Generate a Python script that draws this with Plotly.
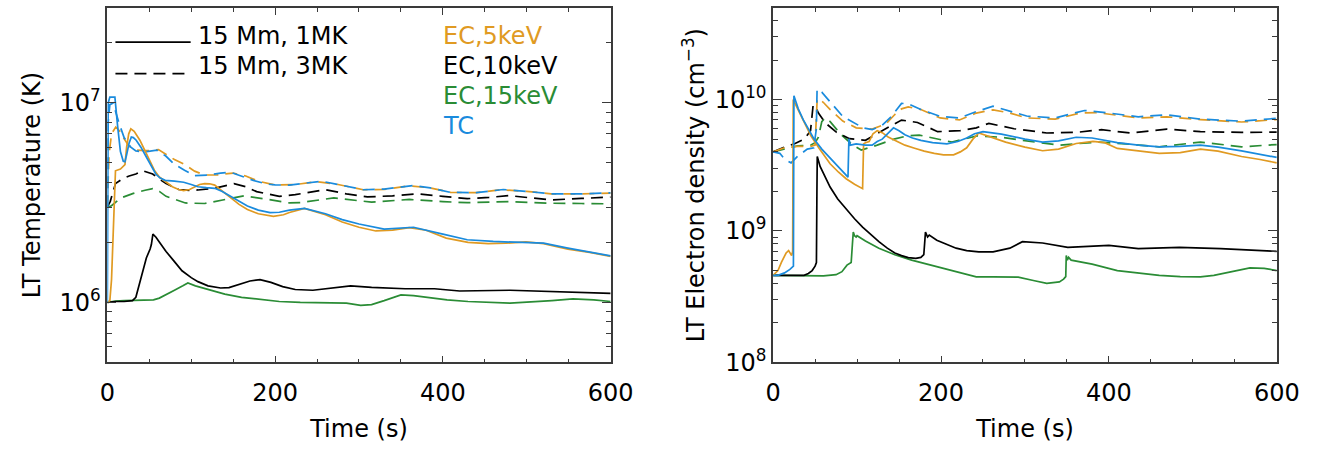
import plotly.graph_objects as go
import math

# ---------------- data: left panel, loop-top temperature (K) ----------------
t_T_ec5_1mk = [0, 3, 5, 7, 9.7, 15.6, 21, 23, 25.5, 28, 32, 38.8, 45, 50.4, 56, 62, 70, 77.5, 85, 91, 98, 104.5, 110, 116, 122, 128, 137, 147, 157, 167, 180, 198, 210, 217, 235, 260, 280, 300, 320, 340, 360, 380, 404, 430, 454, 475, 499, 520, 549, 575, 600]
T_ec5_1mk = [1.0e6, 1.02e6, 1.3e6, 2.5e6, 4.57e6, 4.66e6, 4.9e6, 6.0e6, 7.0e6, 7.41e6, 7.2e6, 6.5e6, 5.7e6, 5.1e6, 4.6e6, 4.25e6, 4.0e6, 3.8e6, 3.68e6, 3.63e6, 3.68e6, 3.8e6, 3.9e6, 3.94e6, 3.93e6, 3.87e6, 3.6e6, 3.33e6, 3.1e6, 2.92e6, 2.78e6, 2.7e6, 2.75e6, 2.82e6, 2.96e6, 2.75e6, 2.53e6, 2.38e6, 2.28e6, 2.3e6, 2.37e6, 2.3e6, 2.1e6, 2.0e6, 1.97e6, 1.98e6, 2.01e6, 1.97e6, 1.85e6, 1.78e6, 1.70e6]

t_T_ec10_1mk = [0, 10, 20, 30, 34, 38.8, 46.5, 51, 52.5, 54.3, 58, 63, 70, 80, 89, 100, 108, 120, 135, 145, 155, 170, 182, 195, 209, 224, 245, 270, 290, 315, 355, 390, 420, 480, 530, 600]
T_ec10_1mk = [1.0e6, 1.01e6, 1.01e6, 1.02e6, 1.06e6, 1.25e6, 1.67e6, 1.85e6, 1.95e6, 2.2e6, 2.12e6, 1.98e6, 1.8e6, 1.6e6, 1.44e6, 1.33e6, 1.27e6, 1.21e6, 1.18e6, 1.185e6, 1.22e6, 1.28e6, 1.30e6, 1.26e6, 1.2e6, 1.16e6, 1.15e6, 1.18e6, 1.21e6, 1.19e6, 1.17e6, 1.17e6, 1.14e6, 1.15e6, 1.13e6, 1.11e6]

t_T_ec15_1mk = [0, 10, 20, 40, 55, 62, 70, 80, 90, 96, 105, 120, 140, 160, 180, 205, 230, 260, 285, 302, 315, 330, 350, 365, 380, 405, 430, 480, 530, 555, 580, 600]
T_ec15_1mk = [1.0e6, 1.015e6, 1.02e6, 1.025e6, 1.03e6, 1.05e6, 1.09e6, 1.15e6, 1.21e6, 1.25e6, 1.21e6, 1.16e6, 1.1e6, 1.06e6, 1.035e6, 1.01e6, 1.0e6, 0.995e6, 0.99e6, 0.965e6, 0.975e6, 1.02e6, 1.09e6, 1.08e6, 1.06e6, 1.03e6, 1.01e6, 0.99e6, 1.02e6, 1.04e6, 1.03e6, 1.01e6]

t_T_tc_1mk = [0, 1, 3, 9, 12.2, 15.6, 19, 21, 23, 26, 28.6, 31, 34.4, 40, 46, 52, 57.7, 63, 69, 80, 91, 100, 108, 118, 128, 137, 147, 157, 167, 180, 194, 205, 217, 235, 260, 280, 300, 330, 365, 400, 429, 460, 494, 520, 549, 575, 600]
T_tc_1mk = [1.0e6, 1.0e7, 1.07e7, 1.07e7, 7.7e6, 5.7e6, 5.1e6, 5.07e6, 5.5e6, 6.3e6, 6.75e6, 6.7e6, 6.5e6, 6.0e6, 5.4e6, 4.9e6, 4.4e6, 4.2e6, 4.09e6, 4.05e6, 4.0e6, 3.9e6, 3.8e6, 3.76e6, 3.73e6, 3.6e6, 3.4e6, 3.2e6, 3.04e6, 2.9e6, 2.82e6, 2.83e6, 2.9e6, 2.96e6, 2.78e6, 2.6e6, 2.47e6, 2.33e6, 2.38e6, 2.2e6, 2.06e6, 2.02e6, 2.0e6, 1.98e6, 1.87e6, 1.79e6, 1.71e6]

t_T_ec5_3mk = [0, 2, 5, 10, 15, 20, 26, 35, 45, 51, 61, 70, 80, 91, 104, 116, 130, 150, 165, 180, 200, 225, 250, 275, 305, 330, 360, 385, 409, 440, 469, 500, 529, 565, 600]
T_ec5_3mk = [3.0e6, 5.5e6, 7.0e6, 7.57e6, 7.2e6, 6.6e6, 6.06e6, 5.8e6, 5.77e6, 5.77e6, 5.83e6, 5.5e6, 5.2e6, 4.94e6, 4.55e6, 4.35e6, 4.35e6, 4.45e6, 4.3e6, 4.05e6, 3.88e6, 3.9e6, 4.03e6, 3.9e6, 3.67e6, 3.68e6, 3.84e6, 3.75e6, 3.56e6, 3.55e6, 3.67e6, 3.6e6, 3.5e6, 3.5e6, 3.53e6]

t_T_ec10_3mk = [0, 3.5, 9.7, 18, 26, 34, 42, 54, 62, 70, 85, 100, 108, 128, 151, 165, 178, 205, 224, 260, 285, 310, 340, 370, 400, 429, 455, 479, 505, 529, 565, 600]
T_ec10_3mk = [3.0e6, 3.21e6, 3.94e6, 4.16e6, 4.3e6, 4.4e6, 4.57e6, 4.4e6, 4.15e6, 3.94e6, 3.68e6, 3.64e6, 3.66e6, 3.73e6, 3.94e6, 3.8e6, 3.59e6, 3.4e6, 3.47e6, 3.67e6, 3.5e6, 3.38e6, 3.42e6, 3.5e6, 3.4e6, 3.31e6, 3.36e6, 3.43e6, 3.34e6, 3.26e6, 3.32e6, 3.37e6]

t_T_ec15_3mk = [0, 5, 15.6, 31, 45, 54, 62, 70, 93, 116, 139, 163, 190, 217, 230, 270, 315, 360, 400, 429, 479, 529, 565, 600]
T_ec15_3mk = [3.0e6, 3.05e6, 3.33e6, 3.52e6, 3.65e6, 3.72e6, 3.6e6, 3.4e6, 3.15e6, 3.13e6, 3.27e6, 3.42e6, 3.29e6, 3.15e6, 3.16e6, 3.34e6, 3.18e6, 3.28e6, 3.2e6, 3.16e6, 3.2e6, 3.14e6, 3.13e6, 3.12e6]

t_T_tc_3mk = [0, 1, 3, 7, 10, 14, 20, 28, 34, 40, 47, 59, 70, 80, 92, 104, 120, 135, 147, 160, 174, 190, 200, 217, 235, 255, 275, 305, 330, 365, 385, 409, 440, 472, 500, 529, 565, 600]
T_tc_3mk = [3.0e6, 8.0e6, 9.8e6, 1.0e7, 9.0e6, 7.9e6, 6.7e6, 6.0e6, 5.75e6, 5.7e6, 5.7e6, 5.8e6, 5.4e6, 4.92e6, 4.6e6, 4.32e6, 4.35e6, 4.45e6, 4.49e6, 4.3e6, 4.09e6, 3.92e6, 3.88e6, 3.87e6, 3.95e6, 4.05e6, 3.9e6, 3.67e6, 3.7e6, 3.85e6, 3.75e6, 3.56e6, 3.55e6, 3.68e6, 3.6e6, 3.5e6, 3.5e6, 3.54e6]

# ---------------- data: right panel, loop-top electron density (cm^-3) ----------------
t_n_ec5_1mk = [0, 5.8, 10, 15.5, 18.5, 20.5, 22.1, 23.3, 24, 30, 36, 45, 55, 67.9, 78, 87, 97, 106.6, 107.8, 110, 114.4, 119, 124, 130, 137, 145, 157, 168.6, 180, 192, 203, 215, 223, 230.6, 238, 245, 260, 277, 300, 321, 340, 361, 381, 395, 410, 435, 460, 485, 509, 530, 558, 580, 600]
n_ec5_1mk = [4.6e8, 5.0e8, 5.8e8, 6.8e8, 7.1e8, 6.7e8, 6.5e8, 7.0e8, 1.0e10, 8.3e9, 7.0e9, 5.3e9, 4.25e9, 3.25e9, 2.8e9, 2.5e9, 2.27e9, 2.1e9, 4.6e9, 4.7e9, 4.8e9, 5.5e9, 5.8e9, 5.6e9, 5.2e9, 4.9e9, 4.5e9, 4.26e9, 4.05e9, 3.9e9, 3.8e9, 3.8e9, 4.0e9, 4.3e9, 5.0e9, 5.57e9, 5.2e9, 4.75e9, 4.35e9, 4.08e9, 4.2e9, 4.63e9, 4.81e9, 4.7e9, 4.25e9, 4.05e9, 3.9e9, 3.95e9, 4.2e9, 4.05e9, 3.69e9, 3.5e9, 3.3e9]

t_n_ec10_1mk = [0, 20, 36.9, 42, 46.5, 50, 51.6, 52.2, 52.6, 56, 60, 67.9, 77, 87.2, 97, 106.6, 116, 126, 136, 145, 153, 161, 170, 176, 179.5, 180.5, 181.5, 184, 186, 195, 207, 218, 230.6, 245, 262, 282, 297, 321, 351, 375, 400, 435, 484, 533, 570, 600]
n_ec10_1mk = [4.6e8, 4.6e8, 4.6e8, 4.75e8, 5.0e8, 5.4e8, 5.75e8, 2.0e9, 3.69e9, 3.1e9, 2.75e9, 2.16e9, 1.75e9, 1.46e9, 1.24e9, 1.07e9, 9.4e8, 8.3e8, 7.4e8, 6.8e8, 6.5e8, 6.27e8, 6.2e8, 6.3e8, 6.6e8, 9.0e8, 9.8e8, 9.0e8, 9.3e8, 8.5e8, 7.85e8, 7.4e8, 7.1e8, 6.93e8, 6.93e8, 7.4e8, 8.3e8, 8.1e8, 7.5e8, 7.6e8, 7.76e8, 7.34e8, 7.5e8, 7.34e8, 7.2e8, 7.0e8]

t_n_ec15_1mk = [0, 30, 60, 75, 82, 88, 93, 94.5, 95.5, 97, 98.9, 100, 110, 126, 145, 165, 185, 203.5, 222, 242, 262, 292, 310, 326, 341, 346, 348.6, 349.2, 350.5, 352, 355, 380, 410, 435, 460, 485, 509, 525, 538, 555, 568, 585, 600]
n_ec15_1mk = [4.6e8, 4.55e8, 4.55e8, 4.65e8, 4.9e8, 5.5e8, 5.75e8, 8.0e8, 9.8e8, 9.2e8, 9.0e8, 9.2e8, 8.4e8, 7.4e8, 6.6e8, 6.0e8, 5.55e8, 5.15e8, 4.8e8, 4.47e8, 4.47e8, 4.45e8, 4.2e8, 4.0e8, 4.1e8, 4.3e8, 4.5e8, 6.5e8, 6.0e8, 6.3e8, 6.0e8, 5.6e8, 5.0e8, 4.8e8, 4.6e8, 4.5e8, 4.47e8, 4.6e8, 4.78e8, 5.0e8, 5.24e8, 5.2e8, 5.0e8]

t_n_tc_1mk = [0, 5.8, 13.6, 20, 24.2, 24.8, 30, 36, 42.6, 48.5, 58, 67.9, 78, 89.2, 90.3, 92, 99, 110, 118, 124, 130, 137, 143.4, 150, 157, 166, 176, 190, 207, 220, 230.6, 240, 250, 272, 300, 321, 340, 361, 380, 410, 435, 460, 485, 509, 530, 558, 580, 600]
n_tc_1mk = [4.6e8, 4.6e8, 4.8e8, 5.1e8, 5.4e8, 1.07e10, 8.5e9, 7.0e9, 5.9e9, 5.04e9, 4.2e9, 3.6e9, 3.05e9, 2.57e9, 5.04e9, 4.5e9, 4.6e9, 4.5e9, 4.5e9, 4.8e9, 5.0e9, 5.6e9, 6.1e9, 5.8e9, 5.4e9, 5.1e9, 4.9e9, 4.7e9, 4.6e9, 4.8e9, 5.1e9, 5.5e9, 5.7e9, 5.46e9, 5.0e9, 4.75e9, 4.85e9, 5.17e9, 5.1e9, 4.7e9, 4.5e9, 4.37e9, 4.4e9, 4.5e9, 4.35e9, 4.07e9, 3.85e9, 3.63e9]

t_n_ec5_3mk = [0, 13.6, 29, 44.6, 50, 51.5, 52.5, 54, 60, 68, 83, 99, 118, 134, 145, 153, 161, 176, 199, 222, 242, 262, 282, 302, 336, 366, 386, 410, 435, 469, 509, 558, 600]
n_ec5_3mk = [4.0e9, 4.3e9, 4.4e9, 4.4e9, 4.5e9, 7.0e9, 1.0e10, 1.02e10, 9.5e9, 8.4e9, 6.86e9, 6.1e9, 5.97e9, 6.5e9, 7.7e9, 8.5e9, 8.8e9, 8.4e9, 7.25e9, 7.0e9, 7.9e9, 8.36e9, 7.9e9, 7.25e9, 7.1e9, 7.9e9, 7.95e9, 7.6e9, 7.25e9, 7.4e9, 7.05e9, 6.75e9, 7.05e9]

t_n_ec10_3mk = [0, 11.6, 25, 37, 44.6, 46.5, 47.7, 50.4, 54, 62, 75.6, 91, 110, 129.9, 153, 172, 196, 223, 242, 257, 287, 326, 361, 391, 425, 469, 509, 558, 600]
n_ec10_3mk = [4.0e9, 4.3e9, 4.6e9, 5.0e9, 5.8e9, 8.0e9, 9.1e9, 8.9e9, 7.9e9, 6.67e9, 5.63e9, 5.04e9, 4.9e9, 5.8e9, 6.98e9, 6.7e9, 5.7e9, 5.8e9, 6.1e9, 6.59e9, 6.0e9, 5.57e9, 5.63e9, 5.9e9, 5.57e9, 5.96e9, 5.7e9, 5.63e9, 5.65e9]

t_n_ec15_3mk = [0, 15, 29, 44.6, 50, 54, 58, 62, 68, 80, 95, 105, 124, 144, 160, 174, 195, 213, 243, 272, 312, 341, 386, 420, 460, 509, 558, 600]
n_ec15_3mk = [4.0e9, 4.2e9, 4.45e9, 4.5e9, 4.7e9, 5.17e9, 6.8e9, 7.25e9, 6.8e9, 5.5e9, 4.5e9, 4.13e9, 4.5e9, 5.0e9, 5.3e9, 5.37e9, 5.0e9, 4.75e9, 5.3e9, 5.17e9, 4.75e9, 4.5e9, 4.75e9, 4.6e9, 4.37e9, 4.75e9, 4.37e9, 4.55e9]

t_n_tc_3mk = [0, 8, 14, 21.4, 29, 40.7, 48.5, 51.5, 52.4, 58, 68, 83, 107, 118, 130, 141, 153, 161, 176, 199, 222, 242, 262, 282, 302, 336, 371, 400, 435, 469, 509, 558, 600]
n_tc_3mk = [4.0e9, 3.9e9, 3.5e9, 3.3e9, 3.69e9, 4.2e9, 4.3e9, 6.0e9, 1.2e10, 1.14e10, 9.6e9, 7.45e9, 6.1e9, 5.9e9, 6.4e9, 7.45e9, 9.35e9, 9.3e9, 8.4e9, 7.45e9, 7.25e9, 8.1e9, 8.9e9, 8.2e9, 7.5e9, 7.25e9, 8.26e9, 7.9e9, 7.4e9, 7.67e9, 7.1e9, 6.85e9, 7.2e9]

x_ticks = [0, 200, 400, 600]
T_ticks = [1e6, 1e7]
T_ticktext = ["10<sup>6</sup>", "10<sup>7</sup>"]
n_ticks = [1e8, 1e9, 1e10]
n_ticktext = ["10<sup>8</sup>", "10<sup>9</sup>", "10<sup>10</sup>"]
T_minor = [5e5, 6e5, 7e5, 8e5, 9e5] + [k * 1e6 for k in range(2, 10)] + [2e7, 3e7]
n_minor = [k * 1e8 for k in range(2, 10)] + [k * 1e9 for k in range(2, 10)] + [2e10, 3e10, 4e10, 5e10]

legend_labels = ["EC,5keV", "EC,10keV", "EC,15keV", "TC"]
ORANGE = "#E09A22"
BLACK = "#000000"
GREEN = "#2A8C35"
BLUE = "#1A8BDD"
colors = [ORANGE, BLACK, GREEN, BLUE]

FONT = "DejaVu Sans"
FS = 24
W, H = 1334, 451

fig = go.Figure()

def add(x, y, color, dash, xa, ya):
    fig.add_trace(go.Scatter(
        x=x, y=y, mode="lines", xaxis=xa, yaxis=ya, showlegend=False,
        line=dict(color=color, width=1.7, dash=dash)))

DASH = "12px,7px"
add(t_T_ec15_3mk, T_ec15_3mk, GREEN, DASH, "x", "y")
add(t_T_ec10_3mk, T_ec10_3mk, BLACK, DASH, "x", "y")
add(t_T_ec5_3mk, T_ec5_3mk, ORANGE, DASH, "x", "y")
add(t_T_tc_3mk, T_tc_3mk, BLUE, DASH, "x", "y")
add(t_T_ec15_1mk, T_ec15_1mk, GREEN, "solid", "x", "y")
add(t_T_ec10_1mk, T_ec10_1mk, BLACK, "solid", "x", "y")
add(t_T_ec5_1mk, T_ec5_1mk, ORANGE, "solid", "x", "y")
add(t_T_tc_1mk, T_tc_1mk, BLUE, "solid", "x", "y")
add(t_n_ec15_3mk, n_ec15_3mk, GREEN, DASH, "x2", "y2")
add(t_n_ec10_3mk, n_ec10_3mk, BLACK, DASH, "x2", "y2")
add(t_n_ec5_3mk, n_ec5_3mk, ORANGE, DASH, "x2", "y2")
add(t_n_tc_3mk, n_tc_3mk, BLUE, DASH, "x2", "y2")
add(t_n_ec15_1mk, n_ec15_1mk, GREEN, "solid", "x2", "y2")
add(t_n_ec10_1mk, n_ec10_1mk, BLACK, "solid", "x2", "y2")
add(t_n_ec5_1mk, n_ec5_1mk, ORANGE, "solid", "x2", "y2")
add(t_n_tc_1mk, n_tc_1mk, BLUE, "solid", "x2", "y2")

AX = "#3a3a3a"
ydom = [1 - 374 / H, 1 - 8 / H]

def xaxis(domain, anchor):
    return dict(
        domain=domain, anchor=anchor, range=[0, 600], tickmode="array", tickvals=x_ticks,
        ticks="inside", ticklen=7, tickwidth=1.3, tickcolor=AX, ticklabelstandoff=8,
        showline=True, linecolor=AX, linewidth=1.5, mirror="ticks",
        showgrid=False, zeroline=False,
        tickfont=dict(family=FONT, size=FS, color="black"),
        minor=dict(dtick=50, tick0=0, ticks="inside", ticklen=4, tickwidth=1.1, tickcolor=AX, showgrid=False),
        title=dict(text="Time (s)", font=dict(family=FONT, size=FS, color="black"), standoff=14),
    )

def yaxis(rng, tv, tt, minor_vals, title, anchor, standoff):
    return dict(
        domain=ydom, anchor=anchor, type="log", range=rng, tickmode="array", tickvals=tv, ticktext=tt,
        ticks="inside", ticklen=9, tickwidth=1.3, tickcolor=AX,
        showline=True, linecolor=AX, linewidth=1.5, mirror="ticks",
        showgrid=False, zeroline=False,
        tickfont=dict(family=FONT, size=FS, color="black"),
        minor=dict(tickmode="array", tickvals=minor_vals, ticks="inside", ticklen=5, tickwidth=1.1, tickcolor=AX, showgrid=False),
        title=dict(text=title, font=dict(family=FONT, size=FS, color="black"), standoff=standoff),
    )

fig.update_layout(
    width=W, height=H, autosize=False,
    margin=dict(l=0, r=0, t=0, b=0),
    paper_bgcolor="white", plot_bgcolor="white",
    xaxis=xaxis([101.7 / W, 617 / W], "y"),
    yaxis=yaxis([math.log10(5e5), math.log10(3e7)], T_ticks, T_ticktext, T_minor, "LT Temperature (K)", "x", 12),
    xaxis2=xaxis([783.3 / W, 1299 / W], "y2"),
    yaxis2=yaxis([8, math.log10(5e10)], n_ticks, n_ticktext, n_minor, "LT Electron density (cm<sup>−3</sup>)", "x2", 3),
)

fig.add_shape(type="line", xref="paper", yref="paper", x0=110 / W, x1=187 / W,
              y0=1 - 43.5 / H, y1=1 - 43.5 / H, line=dict(color="black", width=1.7))
fig.add_shape(type="line", xref="paper", yref="paper", x0=110 / W, x1=187 / W,
              y0=1 - 76 / H, y1=1 - 76 / H, line=dict(color="black", width=1.7, dash=DASH))
fig.add_annotation(text="15 Mm, 1MK", x=192 / W, y=1 - 37 / H, xref="paper", yref="paper",
                   xanchor="left", yanchor="middle", showarrow=False,
                   font=dict(family=FONT, size=FS, color="black"))
fig.add_annotation(text="15 Mm, 3MK", x=192 / W, y=1 - 68 / H, xref="paper", yref="paper",
                   xanchor="left", yanchor="middle", showarrow=False,
                   font=dict(family=FONT, size=FS, color="black"))
for i, (lab, col) in enumerate(zip(legend_labels, colors)):
    fig.add_annotation(text=lab, x=443 / W, y=1 - (37 + 31 * i) / H, xref="paper", yref="paper",
                       xanchor="left", yanchor="middle", showarrow=False,
                       font=dict(family=FONT, size=FS, color=col))

fig.write_html("out.html")
